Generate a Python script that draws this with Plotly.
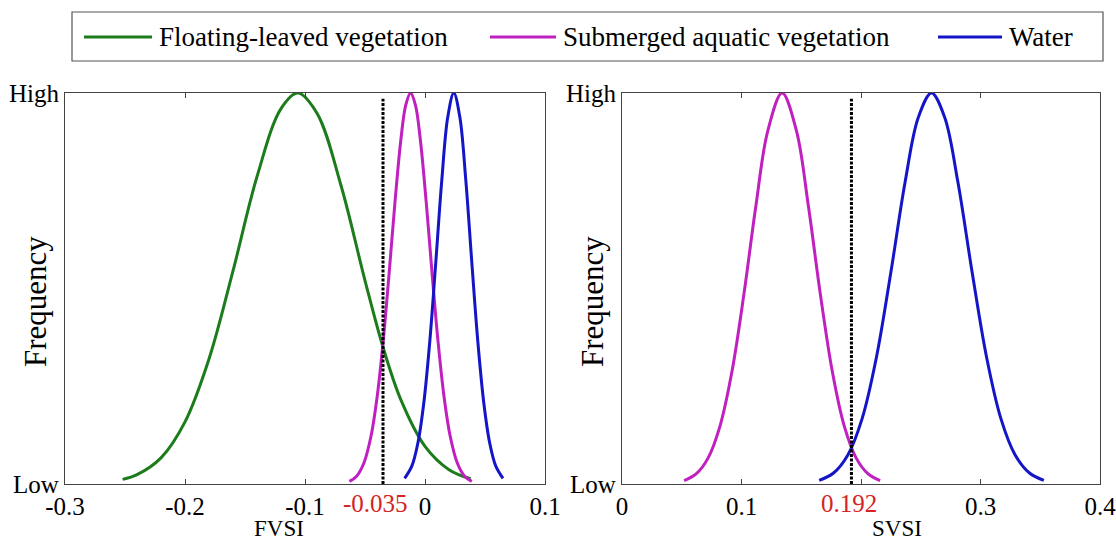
import plotly.graph_objects as go

# ---------------- data ----------------
# Left panel: FVSI
fvsi_float_x = [-0.252, -0.24, -0.22, -0.20, -0.18, -0.16, -0.14, -0.12, -0.106,
                -0.09, -0.07, -0.05, -0.035, -0.02, 0.0, 0.02, 0.038]
fvsi_float_y = [0.0118, 0.0238, 0.0668, 0.1588, 0.3197, 0.5449, 0.7861, 0.9600, 1.0,
                0.9481, 0.7634, 0.5204, 0.3500, 0.2144, 0.0963, 0.0367, 0.0133]

fvsi_sub_x = [-0.063, -0.057, -0.051, -0.045, -0.040, -0.035, -0.030, -0.025, -0.020, -0.016, -0.012,
              -0.008, -0.004, 0.001, 0.006, 0.011, 0.016, 0.021, 0.027, 0.033, 0.039]
fvsi_sub_y = [0.0066, 0.0201, 0.0531, 0.1222, 0.2201, 0.3602, 0.5350, 0.7216, 0.8837, 0.9696, 1.0,
              0.9696, 0.8837, 0.7216, 0.5350, 0.3602, 0.2201, 0.1222, 0.0531, 0.0201, 0.0066]

fvsi_water_x = [-0.017, -0.011, -0.006, -0.001, 0.004, 0.009, 0.014, 0.019, 0.024,
                0.029, 0.034, 0.039, 0.044, 0.049, 0.054, 0.059, 0.065]
fvsi_water_y = [0.0145, 0.0457, 0.1036, 0.2073, 0.3651, 0.5673, 0.7773, 0.9390, 1.0,
                0.9390, 0.7773, 0.5673, 0.3651, 0.2073, 0.1036, 0.0457, 0.0145]

# Right panel: SVSI
svsi_sub_x = [0.052, 0.062, 0.072, 0.082, 0.092, 0.102, 0.112, 0.122, 0.134,
              0.146, 0.156, 0.166, 0.176, 0.186, 0.196, 0.206, 0.216]
svsi_sub_y = [0.0086, 0.0256, 0.0661, 0.1479, 0.2875, 0.4850, 0.7103, 0.9032, 1.0,
              0.9032, 0.7103, 0.4850, 0.2875, 0.1479, 0.0661, 0.0256, 0.0086]

svsi_water_x = [0.165, 0.177, 0.189, 0.201, 0.213, 0.225, 0.237, 0.248, 0.259,
                0.270, 0.281, 0.293, 0.305, 0.317, 0.329, 0.341, 0.353]
svsi_water_y = [0.0092, 0.0282, 0.0744, 0.1679, 0.3255, 0.5415, 0.7735, 0.9378, 1.0,
                0.9378, 0.7735, 0.5415, 0.3255, 0.1679, 0.0744, 0.0282, 0.0092]

thresholds = [-0.035, 0.192]
threshold_labels = ["-0.035", "0.192"]
threshold_line_y = [0.0, 0.985]

fvsi_ticks = [-0.3, -0.2, -0.1, 0.0, 0.1]
fvsi_ticktext = ["-0.3", "-0.2", "-0.1", "0", "0.1"]
svsi_ticks = [0.0, 0.1, 0.2, 0.3, 0.4]
svsi_ticktext = ["0", "0.1", "", "0.3", "0.4"]
freq_ticks = [0, 1]
freq_ticktext = ["Low", "High"]

series_names = ["Floating-leaved vegetation", "Submerged aquatic vegetation", "Water"]

# ---------------- styling ----------------
GREEN = "#1c7c1c"
MAGENTA = "#c020c0"
BLUE = "#1515c8"
RED = "#d42424"
FONT = "Liberation Serif"
W, H = 1116, 542

fig = go.Figure()

def curve(x, y, color, xa, ya, name):
    fig.add_trace(go.Scatter(x=x, y=y, mode="lines", name=name, showlegend=False,
                             line=dict(color=color, width=3, shape="spline", smoothing=1.0),
                             xaxis=xa, yaxis=ya, hoverinfo="x+y"))

curve(fvsi_float_x, fvsi_float_y, GREEN, "x", "y", series_names[0])
curve(fvsi_sub_x, fvsi_sub_y, MAGENTA, "x", "y", series_names[1])
curve(fvsi_water_x, fvsi_water_y, BLUE, "x", "y", series_names[2])
curve(svsi_sub_x, svsi_sub_y, MAGENTA, "x2", "y2", series_names[1])
curve(svsi_water_x, svsi_water_y, BLUE, "x2", "y2", series_names[2])

for i, (xa, ya) in enumerate([("x", "y"), ("x2", "y2")]):
    fig.add_trace(go.Scatter(x=[thresholds[i], thresholds[i]], y=threshold_line_y, mode="lines",
                             showlegend=False, line=dict(color="black", width=3, dash="3px,1.5px"),
                             xaxis=xa, yaxis=ya))

axis_common = dict(showgrid=False, zeroline=False, showline=True, linecolor="#444",
                   linewidth=1.2, automargin=False)
xfont = dict(family=FONT, size=25, color="black")

y0 = 1 - 484 / H
y1 = 1 - 93 / H

fig.update_layout(
    width=W, height=H,
    margin=dict(l=0, r=0, t=0, b=0, pad=0, autoexpand=False),
    paper_bgcolor="white", plot_bgcolor="white",
    font=dict(family=FONT, color="black"),
    xaxis=dict(domain=[65 / W, 545 / W], range=[-0.3, 0.1], tickvals=fvsi_ticks,
               ticktext=fvsi_ticktext, ticks="inside", ticklen=5, tickcolor="#444",
               tickfont=xfont, anchor="y", mirror="allticks", ticklabeloverflow="allow",
               **axis_common),
    yaxis=dict(domain=[y0, y1], range=[0, 1], tickvals=freq_ticks, ticktext=freq_ticktext,
               ticks="", tickfont=xfont, anchor="x", mirror=True, ticklabeloverflow="allow",
               **axis_common),
    xaxis2=dict(domain=[622 / W, 1100 / W], range=[0, 0.4], tickvals=svsi_ticks,
                ticktext=svsi_ticktext, ticks="inside", ticklen=5, tickcolor="#444",
                tickfont=xfont, anchor="y2", mirror="allticks", ticklabeloverflow="allow",
                **axis_common),
    yaxis2=dict(domain=[y0, y1], range=[0, 1], tickvals=freq_ticks, ticktext=freq_ticktext,
                ticks="", tickfont=xfont, anchor="x2", mirror=True, ticklabeloverflow="allow",
                **axis_common),
)

# threshold labels
for i, xr in enumerate(["x", "x2"]):
    fig.add_annotation(x=thresholds[i], xref=xr, y=1 - 503 / H, yref="paper",
                       text=threshold_labels[i], showarrow=False, xshift=-8 if i == 0 else -2,
                       font=dict(family=FONT, size=25, color=RED), yanchor="middle")

# axis titles
fig.add_annotation(x=252 / W, y=1 - 528 / H, xref="paper", yref="paper", text="FVSI",
                   showarrow=False, font=dict(family=FONT, size=23), yanchor="middle")
fig.add_annotation(x=924 / W, y=1 - 528 / H, xref="paper", yref="paper", text="SVSI",
                   showarrow=False, font=dict(family=FONT, size=23), yanchor="middle")
for xc in [35, 592]:
    fig.add_annotation(x=xc / W, y=1 - 302 / H, xref="paper", yref="paper", text="Frequency",
                       showarrow=False, textangle=-90, font=dict(family=FONT, size=31),
                       xanchor="center", yanchor="middle")

# legend box drawn in paper space
fig.add_shape(type="rect", xref="paper", yref="paper", x0=72 / W, x1=1103 / W,
              y0=1 - 61 / H, y1=1 - 12 / H, line=dict(color="#555", width=1.2),
              fillcolor="white", layer="below")
legend_items = [(84, 152, 157, GREEN), (490, 556, 561, MAGENTA), (938, 1002, 1007, BLUE)]
ly = 1 - 37 / H
for (xs, xe, xt, col), name in zip(legend_items, series_names):
    fig.add_shape(type="line", xref="paper", yref="paper", x0=xs / W, x1=xe / W, y0=ly, y1=ly,
                  line=dict(color=col, width=3))
    fig.add_annotation(x=xt / W, y=ly, xref="paper", yref="paper", text=name, showarrow=False,
                       xanchor="left", yanchor="middle", font=dict(family=FONT, size=27))

fig.write_html("out.html")
